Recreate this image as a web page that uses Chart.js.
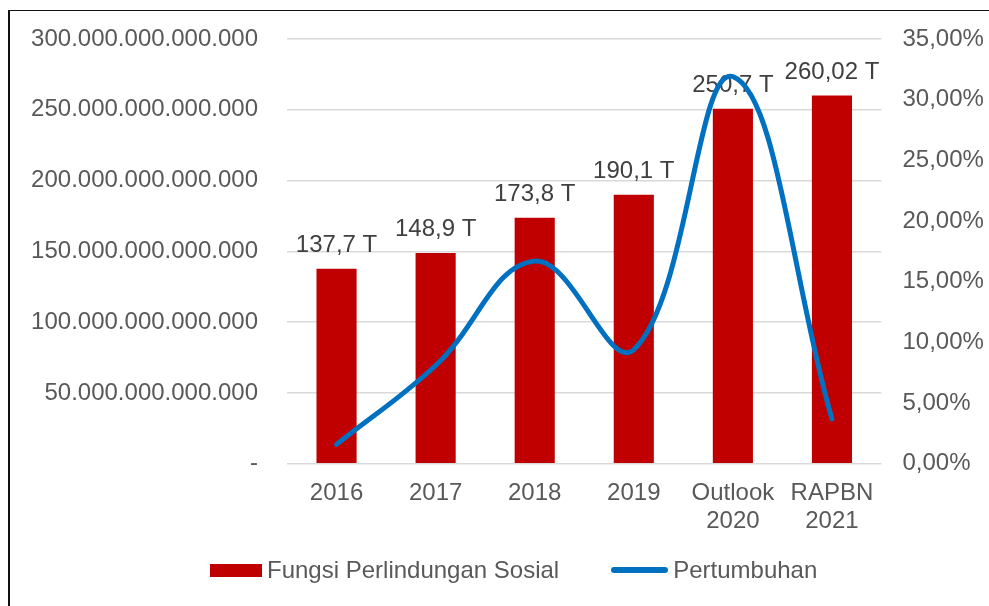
<!DOCTYPE html>
<html>
<head>
<meta charset="utf-8">
<script src="https://cdn.jsdelivr.net/npm/chart.js@4"></script>
<style>
  body { margin: 0; background: #fff; }
  #wrap { position: relative; width: 989px; height: 606px; overflow: hidden; }
  #frame { position: absolute; left: 8px; top: 10px; width: 1000px; height: 700px;
           border-left: 2px solid #111; border-top: 1px solid #111; }
  #chart { position: absolute; left: 0; top: 0; }
  #legend { position: absolute; left: 210px; top: 556px; display: flex; align-items: center;
            font: 24px "Liberation Sans", Arial, sans-serif; color: #595959; white-space: nowrap; }
  #legend .item { display: flex; align-items: center; margin-right: 52px; }
  #legend .mark { margin-right: 5px; }
</style>
</head>
<body>
<div id="wrap">
  <div id="frame"></div>
  <canvas id="chart" width="989" height="606"></canvas>
  <div id="legend"></div>
</div>
<script>
// categories
const categories = ["2016", "2017", "2018", "2019", ["Outlook", "2020"], ["RAPBN", "2021"]];
// social protection spending (rupiah)
const perlindunganSosial = [137.7e12, 148.9e12, 173.8e12, 190.1e12, 250.7e12, 260.02e12];
// growth (%)
const pertumbuhan = [1.6, 8.1, 16.7, 9.4, 31.9, 3.7];

const textColor = "#595959";
const fontFamily = '"Liberation Sans", Arial, sans-serif';

function rupiah(v) {
  if (v === 0) return "-";
  return Math.round(v).toString().replace(/\B(?=(\d{3})+(?!\d))/g, ".");
}

function trillion(v) {
  return (Math.round(v / 1e10) / 100).toString().replace(".", ",") + " T";
}

// value labels above the bars, drawn before the line so the line sits on top
const barLabels = {
  id: "barLabels",
  afterDatasetDraw(chart, args) {
    if (args.index !== 0) return;
    const ctx = chart.ctx;
    ctx.save();
    ctx.font = "24px " + fontFamily;
    ctx.fillStyle = "#404040";
    ctx.textAlign = "center";
    ctx.textBaseline = "alphabetic";
    args.meta.data.forEach((bar, i) => {
      ctx.fillText(trillion(perlindunganSosial[i]), bar.x, bar.y - 17);
    });
    ctx.restore();
  }
};

// html legend built from the datasets
const htmlLegend = {
  id: "htmlLegend",
  afterUpdate(chart) {
    const box = document.getElementById("legend");
    box.innerHTML = "";
    chart.data.datasets.forEach((ds) => {
      const item = document.createElement("div");
      item.className = "item";
      const mark = document.createElement("span");
      mark.className = "mark";
      if (ds.type === "line") {
        mark.style.cssText = "display:inline-block;width:57px;height:6px;border-radius:3px;background:" + ds.borderColor;
      } else {
        mark.style.cssText = "display:inline-block;width:52px;height:13px;background:" + ds.backgroundColor;
      }
      const label = document.createElement("span");
      label.textContent = ds.label;
      item.appendChild(mark);
      item.appendChild(label);
      box.appendChild(item);
    });
  }
};

// fixed axis widths, and no extra top/bottom padding from tick padding
function fixWidth(w) {
  return (scale) => {
    scale.width = w;
    scale.paddingTop = 0;
    scale.paddingBottom = 0;
  };
}

const ctx = document.getElementById("chart").getContext("2d");

new Chart(ctx, {
  data: {
    labels: categories,
    datasets: [
      {
        type: "bar",
        label: "Fungsi Perlindungan Sosial",
        data: perlindunganSosial,
        backgroundColor: "#C00000",
        yAxisID: "y",
        order: 2,
        categoryPercentage: 1,
        barPercentage: 0.405
      },
      {
        type: "line",
        label: "Pertumbuhan",
        data: pertumbuhan,
        borderColor: "#0070C0",
        backgroundColor: "#0070C0",
        borderWidth: 5,
        borderCapStyle: "round",
        tension: 0.4,
        pointRadius: 0,
        yAxisID: "y1",
        order: 1
      }
    ]
  },
  options: {
    responsive: false,
    animation: false,
    devicePixelRatio: 1,
    layout: { padding: { top: 39, bottom: 56, left: 0, right: 0 } },
    plugins: {
      legend: { display: false },
      tooltip: { enabled: false }
    },
    scales: {
      x: {
        grid: { display: false, drawTicks: false },
        border: { display: false },
        ticks: {
          color: textColor,
          font: { family: fontFamily, size: 24, lineHeight: 1.17 },
          padding: 15,
          maxRotation: 0,
          autoSkip: false
        }
      },
      y: {
        position: "left",
        min: 0,
        max: 300e12,
        grid: { color: "#D9D9D9", lineWidth: 1.5, drawTicks: false },
        border: { display: false },
        ticks: {
          stepSize: 50e12,
          color: textColor,
          font: { family: fontFamily, size: 24 },
          padding: 29,
          callback: (v) => rupiah(v)
        },
        afterFit: fixWidth(287)
      },
      y1: {
        position: "right",
        min: 0,
        max: 35,
        grid: { display: false, drawTicks: false },
        border: { display: false },
        ticks: {
          stepSize: 5,
          color: textColor,
          font: { family: fontFamily, size: 24 },
          padding: 21,
          callback: (v) => v.toFixed(2).replace(".", ",") + "%"
        },
        afterFit: fixWidth(107.5)
      }
    }
  },
  plugins: [barLabels, htmlLegend]
});
</script>
</body>
</html>
